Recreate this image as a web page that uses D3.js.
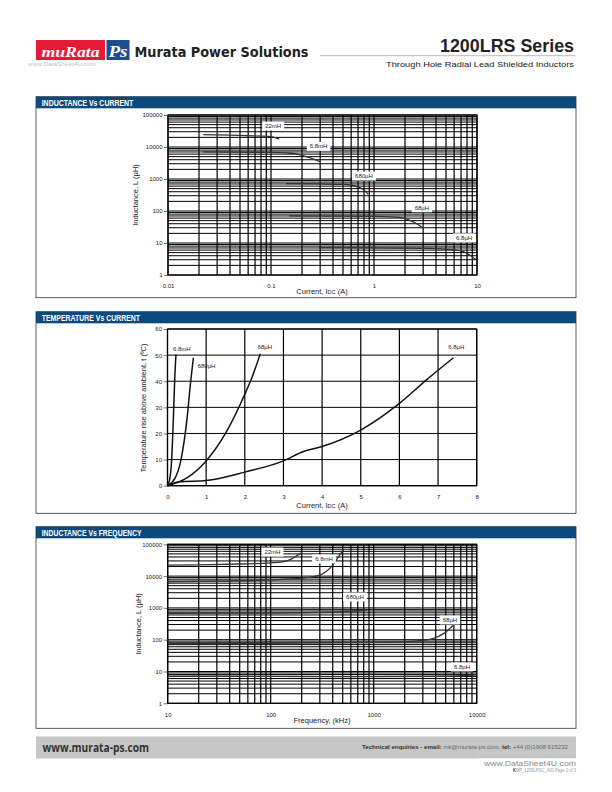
<!DOCTYPE html>
<html><head><meta charset="utf-8">
<script src="https://cdn.jsdelivr.net/npm/d3@7"></script>
<style>body{margin:0;background:#fff}svg{display:block}text{font-family:"Liberation Sans",Arial,sans-serif}</style>
</head><body>
<script>
// ---------- DATA ----------
const seriesNames = ["22mH","6.8mH","680µH","68µH","6.8µH"];
// Inductance vs current: [current A, inductance µH]
const ivc22mH  = [[0.022,24500],[0.04,23500],[0.06,22500],[0.08,22000],[0.1,21000],[0.11,19500],[0.12,17800]];
const ivc6_8mH = [[0.022,7000],[0.05,6900],[0.1,6800],[0.15,6500],[0.18,6000],[0.22,5000],[0.26,4200],[0.3,3500]];
const ivc680uH = [[0.14,720],[0.3,700],[0.5,680],[0.6,650],[0.7,560],[0.8,450],[0.88,330]];
const ivc68uH  = [[0.15,70],[0.5,69],[1,68],[1.5,66],[1.8,62],[2.2,52],[2.6,40],[2.9,32]];
const ivc6_8uH = [[0.3,7.2],[1,7],[2,6.9],[3,6.8],[4.4,6.6],[6,6.1],[7.4,5.4],[8.5,4.2],[9.8,3]];
// Temperature vs current: [current A, temp rise °C]
const tvc6_8mH = [[0,0],[0.05,2],[0.1,8],[0.15,25],[0.19,42],[0.22,50.3]];
const tvc680uH = [[0,0],[0.2,3],[0.35,10],[0.5,25],[0.6,40],[0.67,49]];
const tvc68uH  = [[0,0],[0.5,3],[1,9.5],[1.5,20],[2,35],[2.2,42],[2.4,50.5]];
const tvc6_8uH = [[0,0],[0.3,1.5],[1,2],[2,5.2],[3,9.5],[3.5,13],[4,15],[5,21.3],[6,31.5],[6.7,40.5],[7.4,49]];
// Inductance vs frequency: [kHz, µH]
const ivf22mH  = [[10,22000],[20,22500],[50,24000],[100,26000],[130,28000],[160,35000],[200,55000]];
const ivf6_8mH = [[10,6600],[30,6900],[100,7600],[200,8600],[300,10800],[400,22000],[450,38000],[510,70000]];
const ivf680uH = [[10,680],[100,690],[300,720],[600,790],[850,860]];
const ivf68uH  = [[10,75],[100,77],[1000,82],[2500,90],[3800,110],[4800,158],[6200,330]];
const ivf6_8uH = [[10,7.2],[100,7],[1000,6.9],[5000,7.1],[10000,7.8]];
// tick labels
const logYTicks = [1,10,100,1000,10000,100000];
const curXTicks = [0.01,0.1,1,10];
const freqXTicks = [10,100,1000,10000];
const tempYTicks = [0,10,20,30,40,50,60];
const tempXTicks = [0,1,2,3,4,5,6,7,8];
// curve label anchors (data coordinates)
const ivcLabelAt = [[0.105,45000],[0.29,10500],[0.8,1240],[2.92,126],[7.5,14.5]];
const tvcLabelAt = [[0.37,52.3],[1.01,45.9],[2.52,53.3],[7.47,53]];
const ivfLabelAt = [[104,57000],[329,34600],[658,2200],[5500,417],[7200,13.9]];

// ---------- PAGE ----------
const svg = d3.select("body").append("svg").attr("width",612).attr("height",792);
svg.append("rect").attr("width",612).attr("height",792).attr("fill","#fff");

// Header
svg.append("text").attr("x",28).attr("y",66).attr("font-size",5.5).attr("fill","#c4c4c4")
  .attr("textLength",68).attr("lengthAdjust","spacingAndGlyphs").text("www.DataSheet4U.com");
svg.append("rect").attr("x",36).attr("y",40).attr("width",69).attr("height",20).attr("fill","#e31b36");
svg.append("text").attr("x",41.5).attr("y",56.5).attr("font-size",14).attr("font-style","italic").attr("font-weight","bold")
  .style("font-family","'Liberation Serif',serif").attr("fill","#fff").attr("textLength",58).attr("lengthAdjust","spacingAndGlyphs").text("muRata");
svg.append("rect").attr("x",106.5).attr("y",40).attr("width",23).attr("height",20).attr("fill","#1c4d8e");
svg.append("text").attr("x",108.5).attr("y",56.5).attr("font-size",16).attr("font-style","italic").attr("font-weight","bold")
  .style("font-family","'Liberation Serif',serif").attr("fill","#fff").attr("textLength",19).attr("lengthAdjust","spacingAndGlyphs").text("Ps");
svg.append("text").attr("x",134.5).attr("y",57.3).attr("font-size",14).attr("font-weight","bold")
  .style("font-family","'DejaVu Sans',sans-serif").attr("fill","#222").attr("textLength",174).attr("lengthAdjust","spacingAndGlyphs").text("Murata Power Solutions");
svg.append("text").attr("x",574).attr("y",51.7).attr("font-size",18.5).attr("font-weight","bold").attr("text-anchor","end")
  .style("font-family","'Liberation Sans Narrow','Liberation Sans',sans-serif").attr("fill","#222").attr("textLength",134).attr("lengthAdjust","spacingAndGlyphs").text("1200LRS Series");
svg.append("line").attr("x1",320).attr("x2",575).attr("y1",55.7).attr("y2",55.7).attr("stroke","#bbb").attr("stroke-width",1);
svg.append("text").attr("x",574).attr("y",66.7).attr("font-size",8).attr("text-anchor","end")
  .style("font-family","'Liberation Sans Narrow','Liberation Sans',sans-serif").attr("fill","#222").attr("textLength",188).attr("lengthAdjust","spacingAndGlyphs").text("Through Hole Radial Lead Shielded Inductors");

// Footer
svg.append("rect").attr("x",36).attr("y",736.5).attr("width",540).attr("height",22).attr("fill","#c6c6c6");
svg.append("text").attr("x",42.5).attr("y",751.5).attr("font-size",11.5).attr("font-weight","bold")
  .style("font-family","'Open Sans','DejaVu Sans',sans-serif").attr("fill","#333").attr("textLength",106.5).attr("lengthAdjust","spacingAndGlyphs").text("www.murata-ps.com");
const ft = svg.append("text").attr("x",362).attr("y",749).attr("font-size",6).attr("fill","#333")
  .style("font-family","'Liberation Sans Narrow','Liberation Sans',sans-serif").attr("textLength",206).attr("lengthAdjust","spacingAndGlyphs");
ft.append("tspan").attr("font-weight","bold").text("Technical enquiries - email:");
ft.append("tspan").attr("fill","#666").text(" mk@murata-ps.com, ");
ft.append("tspan").attr("font-weight","bold").text("tel:");
ft.append("tspan").attr("fill","#666").text(" +44 (0)1908 615232");
svg.append("rect").attr("x",476).attr("y",758.5).attr("width",102).attr("height",8.5).attr("fill","#fff");
svg.append("text").attr("x",484).attr("y",765.8).attr("font-size",8).attr("fill","#888")
  .attr("textLength",92).attr("lengthAdjust","spacingAndGlyphs").text("www.DataSheet4U.com");
const kt = svg.append("text").attr("x",513).attr("y",772.3).attr("font-size",6)
  .style("font-family","'Liberation Sans Narrow','Liberation Sans',sans-serif").attr("textLength",63).attr("lengthAdjust","spacingAndGlyphs");
kt.append("tspan").attr("font-weight","bold").attr("fill","#333").text("K");
kt.append("tspan").attr("fill","#999").text("MP_1200LRSC_A01  Page 2 of 3");

// ---------- PANELS ----------
function panel(y0, y1, title, tl){
  svg.append("rect").attr("x",36).attr("y",y0).attr("width",540).attr("height",y1-y0)
    .attr("fill","#fff").attr("stroke","#333").attr("stroke-width",0.8);
  svg.append("rect").attr("x",36).attr("y",y0).attr("width",540).attr("height",11.6).attr("fill","#0c4a7e");
  svg.append("text").attr("x",41.7).attr("y",y0+9.3).attr("font-size",8.5).attr("font-weight","bold")
    .style("font-family","'Liberation Sans Narrow','Liberation Sans',sans-serif").attr("fill","#fff")
    .attr("textLength",tl).attr("lengthAdjust","spacingAndGlyphs").text(title);
}
panel(96.7,297.7,"INDUCTANCE Vs CURRENT",91.6);
panel(311.7,513.3,"TEMPERATURE Vs CURRENT",98.3);
panel(526.7,728.3,"INDUCTANCE Vs FREQUENCY",100);

function xTitle(g, cx, y, parts){
  const t = g.append("text").attr("x",cx).attr("y",y).attr("text-anchor","middle").attr("font-size",7.5).attr("fill","#222");
  parts.forEach(p=>{ const s=t.append("tspan").text(p[0]); if(p[1]) s.attr("font-size",5.5); });
}
function yTitle(g, x, cy, txt){
  g.append("text").attr("transform",`translate(${x},${cy}) rotate(-90)`).attr("text-anchor","middle")
    .attr("dy","0.35em").attr("font-size",7.5).attr("fill","#222").text(txt);
}
function addAxes(g, x, y, xt, yt, fmtX, fmtY, bottom, left){
  const ya = d3.axisLeft(y).tickValues(yt).tickSize(4).tickPadding(1.5).tickFormat(fmtY);
  const yg = g.append("g").attr("transform",`translate(${left},0)`).call(ya);
  yg.select(".domain").remove();
  yg.selectAll("text").attr("font-size",6).attr("fill","#222").style("font-family","'Liberation Sans',Arial,sans-serif");
  yg.selectAll("line").attr("stroke","#222").attr("stroke-width",0.6);
  const xa = d3.axisBottom(x).tickValues(xt).tickSize(0).tickPadding(9).tickFormat(fmtX);
  const xg = g.append("g").attr("transform",`translate(0,${bottom})`).call(xa);
  xg.select(".domain").remove();
  xg.selectAll("text").attr("font-size",6).attr("fill","#222").style("font-family","'Liberation Sans',Arial,sans-serif");
}
function grid(g, x, y, xs, ys){
  const [x0,x1]=x.range(), [y0,y1]=y.range();
  g.append("g").selectAll("line").data(ys).join("line")
    .attr("x1",x0).attr("x2",x1).attr("y1",d=>y(d)).attr("y2",d=>y(d)).attr("stroke","#000").attr("stroke-width",1);
  g.append("g").selectAll("line").data(xs).join("line")
    .attr("y1",y0).attr("y2",y1).attr("x1",d=>x(d)).attr("x2",d=>x(d)).attr("stroke","#000").attr("stroke-width",1.2);
  g.append("rect").attr("x",x0).attr("y",y1).attr("width",x1-x0).attr("height",y0-y1)
    .attr("fill","none").attr("stroke","#000").attr("stroke-width",1.2);
}
function boxedLabels(g, x, y, pts){
  pts.forEach((p,i)=>{
    const t = g.append("text").attr("x",x(p[0])).attr("y",y(p[1])).attr("dy","0.35em")
      .attr("text-anchor","middle").attr("font-size",6).attr("fill","#222").text(seriesNames[i]);
    const w = t.node().getComputedTextLength();
    g.insert("rect", () => t.node()).attr("x",x(p[0])-w/2-3).attr("y",y(p[1])-4.5).attr("width",w+6).attr("height",9).attr("fill","#fff");
  });
}

// ---------- CHART 1: Inductance vs Current ----------
{
  const g = svg.append("g");
  const x = d3.scaleLog().domain([0.01,10]).range([168,477]);
  const y = d3.scaleLog().domain([1,100000]).range([275,115]);
  grid(g, x, y, x.ticks(), y.ticks());
  const line = d3.line().x(d=>x(d[0])).y(d=>y(d[1])).curve(d3.curveMonotoneX);
  [ivc22mH,ivc6_8mH,ivc680uH,ivc68uH,ivc6_8uH].forEach(s=>
    g.append("path").attr("d",line(s)).attr("fill","none").attr("stroke","#333").attr("stroke-width",1.3));
  boxedLabels(g, x, y, ivcLabelAt);
  addAxes(g, x, y, curXTicks, logYTicks, d=>String(d), d=>String(d), 275, 168);
  xTitle(g, 322, 293.5, [["Current, I"],["DC",true],[" (A)"]]);
  yTitle(g, 135, 195, "Inductance, L (µH)");
}

// ---------- CHART 2: Temperature vs Current ----------
{
  const g = svg.append("g");
  const x = d3.scaleLinear().domain([0,8]).range([167.5,476.7]);
  const y = d3.scaleLinear().domain([0,60]).range([485.7,329]);
  grid(g, x, y, tempXTicks, tempYTicks);
  const line = d3.line().x(d=>x(d[0])).y(d=>y(d[1])).curve(d3.curveMonotoneX);
  [tvc6_8mH,tvc680uH,tvc68uH,tvc6_8uH].forEach(s=>
    g.append("path").attr("d",line(s)).attr("fill","none").attr("stroke","#111").attr("stroke-width",1.5));
  const tl = [seriesNames[1],seriesNames[2],seriesNames[3],seriesNames[4]];
  tvcLabelAt.forEach((p,i)=> g.append("text").attr("x",x(p[0])).attr("y",y(p[1])).attr("dy","0.35em")
    .attr("text-anchor","middle").attr("font-size",6).attr("fill","#222").text(tl[i]));
  addAxes(g, x, y, tempXTicks, tempYTicks, d=>String(d), d=>String(d), 485.7, 167.5);
  xTitle(g, 322, 507.5, [["Current, I"],["DC",true],[" (A)"]]);
  yTitle(g, 143.3, 408, "Temperature rise above ambient, t (ºC)");
}

// ---------- CHART 3: Inductance vs Frequency ----------
{
  const g = svg.append("g");
  const x = d3.scaleLog().domain([10,10000]).range([167.7,476.7]);
  const y = d3.scaleLog().domain([1,100000]).range([703.3,544.3]);
  grid(g, x, y, x.ticks(), y.ticks());
  const line = d3.line().x(d=>x(d[0])).y(d=>y(d[1])).curve(d3.curveMonotoneX);
  [ivf22mH,ivf6_8mH,ivf680uH,ivf68uH,ivf6_8uH].forEach(s=>
    g.append("path").attr("d",line(s)).attr("fill","none").attr("stroke","#333").attr("stroke-width",1.3));
  boxedLabels(g, x, y, ivfLabelAt);
  addAxes(g, x, y, freqXTicks, logYTicks, d=>String(d), d=>String(d), 703.3, 167.7);
  xTitle(g, 322, 722.5, [["Frequency, (kHz)"]]);
  yTitle(g, 138.3, 624, "Inductance, L (µH)");
}
</script>
</body></html>
